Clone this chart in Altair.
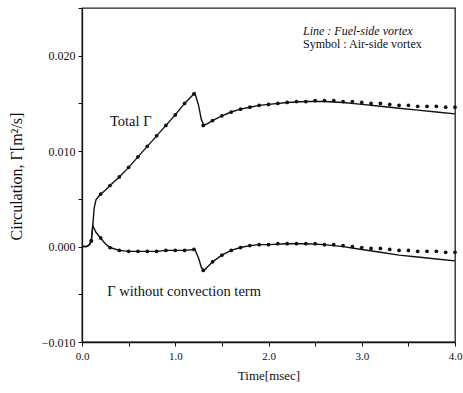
import altair as alt
import pandas as pd

# ---- data ----
line_t = [0.00, 0.05, 0.08, 0.10, 0.115, 0.13, 0.15, 0.19, 0.25, 0.30, 0.40, 0.50,
          0.60, 0.70, 0.80, 0.90, 1.00, 1.10, 1.21, 1.25, 1.28, 1.31, 1.35, 1.40,
          1.50, 1.60, 1.70, 1.80, 1.90, 2.00, 2.20, 2.40, 2.60, 2.80, 3.00, 3.20,
          3.40, 3.60, 3.80, 4.00]
total_line = [0.0000, 0.0000, 0.0002, 0.0006, 0.0021, 0.0040, 0.0049, 0.0054, 0.0059,
              0.0064, 0.0073, 0.0083, 0.0094, 0.0105, 0.0116, 0.0127, 0.0138, 0.0150,
              0.0161, 0.0148, 0.0133, 0.0127, 0.0129, 0.0132, 0.0137, 0.0141, 0.0144,
              0.0146, 0.0148, 0.0149, 0.0151, 0.0152, 0.0152, 0.0151, 0.0149, 0.0147,
              0.0145, 0.0143, 0.0141, 0.0139]
nocon_line = [0.0000, 0.0000, 0.0002, 0.0006, 0.0022, 0.0019, 0.0015, 0.0010, 0.0003,
              -0.0001, -0.0004, -0.0005, -0.0005, -0.0005, -0.0005, -0.0004, -0.0004,
              -0.0004, -0.0003, -0.0012, -0.0022, -0.0025, -0.0021, -0.0016, -0.0009,
              -0.0004, -0.0001, 0.0001, 0.0002, 0.0002, 0.0003, 0.0003, 0.0002, 0.0000,
              -0.0003, -0.0006, -0.0009, -0.0011, -0.0013, -0.0015]

sym_t = [0.1, 0.2, 0.3, 0.4, 0.5, 0.6, 0.7, 0.8, 0.9, 1.0, 1.1, 1.2, 1.3, 1.4, 1.5,
         1.6, 1.7, 1.8, 1.9, 2.0, 2.1, 2.2, 2.3, 2.4, 2.5, 2.6, 2.7, 2.8, 2.9, 3.0,
         3.1, 3.2, 3.3, 3.4, 3.5, 3.6, 3.7, 3.8, 3.9, 4.0]
total_sym = [0.0006, 0.0055, 0.0064, 0.0073, 0.0083, 0.0094, 0.0105, 0.0116, 0.0127,
             0.0138, 0.0150, 0.0160, 0.0127, 0.0132, 0.0137, 0.0141, 0.0144, 0.0146,
             0.0148, 0.0149, 0.0150, 0.0151, 0.0152, 0.0152, 0.0153, 0.0153, 0.0153,
             0.0152, 0.0152, 0.0151, 0.0150, 0.0150, 0.0149, 0.0148, 0.0148, 0.0147,
             0.0147, 0.0147, 0.0146, 0.0146]
nocon_sym = [0.0006, 0.0009, -0.0001, -0.0004, -0.0005, -0.0005, -0.0005, -0.0005,
             -0.0004, -0.0004, -0.0004, -0.0003, -0.0025, -0.0016, -0.0009, -0.0004,
             -0.0001, 0.0001, 0.0002, 0.0002, 0.0003, 0.0003, 0.0003, 0.0003, 0.0003,
             0.0002, 0.0002, 0.0001, 0.0000, -0.0001, -0.0002, -0.0002, -0.0003,
             -0.0004, -0.0004, -0.0005, -0.0005, -0.0005, -0.0006, -0.0006]

x_ticks = [0.0, 0.5, 1.0, 1.5, 2.0, 2.5, 3.0, 3.5, 4.0]
y_ticks = [-0.010, -0.005, 0.000, 0.005, 0.010, 0.015, 0.020, 0.025]

# annotation texts and their anchor points in data units
note_text = ["Total Γ", "Γ without convection term"]
note_t = [0.30, 0.27]
note_v = [0.0131, -0.0048]
key_text = ["Line : Fuel-side vortex", "Symbol : Air-side vortex"]
key_t = [2.37, 2.37]
key_v = [0.0226, 0.0212]

FONT = "Liberation Serif"
INK = "#111111"
W, H = 373, 334

lines = pd.DataFrame({
    "t": line_t * 2,
    "v": total_line + nocon_line,
    "s": ["total"] * len(line_t) + ["nocon"] * len(line_t),
})
syms = pd.DataFrame({
    "t": sym_t * 2,
    "v": total_sym + nocon_sym,
    "s": ["total"] * len(sym_t) + ["nocon"] * len(sym_t),
})

xs = alt.Scale(domain=[0, 4], nice=False, zero=False)
ys = alt.Scale(domain=[-0.010, 0.025], nice=False, zero=False)

frame_style = dict(grid=False, domain=True, domainColor=INK, domainWidth=1.3,
                   ticks=True, tickColor=INK, tickSize=4, tickWidth=1)

x_axis = alt.Axis(values=x_ticks,
                  labelExpr="datum.value % 1 == 0 ? format(datum.value, '.1f') : ''",
                  labelFlush=False, labelPadding=4, labelFont=FONT, labelFontSize=11,
                  labelColor=INK, title="Time[msec]", titleFont=FONT, titleFontSize=13,
                  titleFontWeight="normal", titleColor=INK, titleY=33,
                  titleBaseline="middle", **frame_style)
y_axis = alt.Axis(values=y_ticks,
                  labelExpr="round(datum.value * 1000) % 10 == 0 && datum.value < 0.024 ? format(datum.value, '.3f') : ''",
                  labelFlush=False, labelPadding=3, labelFont=FONT, labelFontSize=12,
                  labelColor=INK, title="Circulation, Γ[m²/s]", titleFont=FONT,
                  titleFontSize=16, titleFontWeight="normal", titleColor=INK,
                  titleX=-66, titleY=168, titleAngle=270, titleBaseline="middle",
                  titleAlign="center", **frame_style)

line_layer = alt.Chart(lines).mark_line(color=INK, strokeWidth=1.4).encode(
    x=alt.X("t:Q", scale=xs, axis=x_axis),
    y=alt.Y("v:Q", scale=ys, axis=y_axis),
    detail="s:N",
)
sym_layer = alt.Chart(syms).mark_point(filled=True, color=INK, size=14, opacity=1).encode(
    x=alt.X("t:Q", scale=xs),
    y=alt.Y("v:Q", scale=ys),
)

notes = pd.DataFrame({"t": note_t, "v": note_v, "txt": note_text})
note_layer = alt.Chart(notes).mark_text(
    font=FONT, fontSize=14.5, color=INK, align="left", baseline="middle").encode(
    x=alt.X("t:Q", scale=xs), y=alt.Y("v:Q", scale=ys), text="txt:N")

key1 = pd.DataFrame({"t": key_t[:1], "v": key_v[:1], "txt": key_text[:1]})
key2 = pd.DataFrame({"t": key_t[1:], "v": key_v[1:], "txt": key_text[1:]})
key_layer1 = alt.Chart(key1).mark_text(
    font=FONT, fontSize=12, fontStyle="italic", color=INK, align="left",
    baseline="middle").encode(
    x=alt.X("t:Q", scale=xs), y=alt.Y("v:Q", scale=ys), text="txt:N")
key_layer2 = alt.Chart(key2).mark_text(
    font=FONT, fontSize=12, color=INK, align="left", baseline="middle").encode(
    x=alt.X("t:Q", scale=xs), y=alt.Y("v:Q", scale=ys), text="txt:N")

chart = alt.layer(line_layer, sym_layer, note_layer, key_layer1, key_layer2).properties(
    width=W, height=H,
    background="white",
    autosize=alt.AutoSizeParams(type="none"),
    padding={"left": 82, "top": 8, "right": 8, "bottom": 51},
).configure_view(stroke="#222222", strokeWidth=1.3)

chart.save("out.html", embed_options={"renderer": "svg", "actions": False})
